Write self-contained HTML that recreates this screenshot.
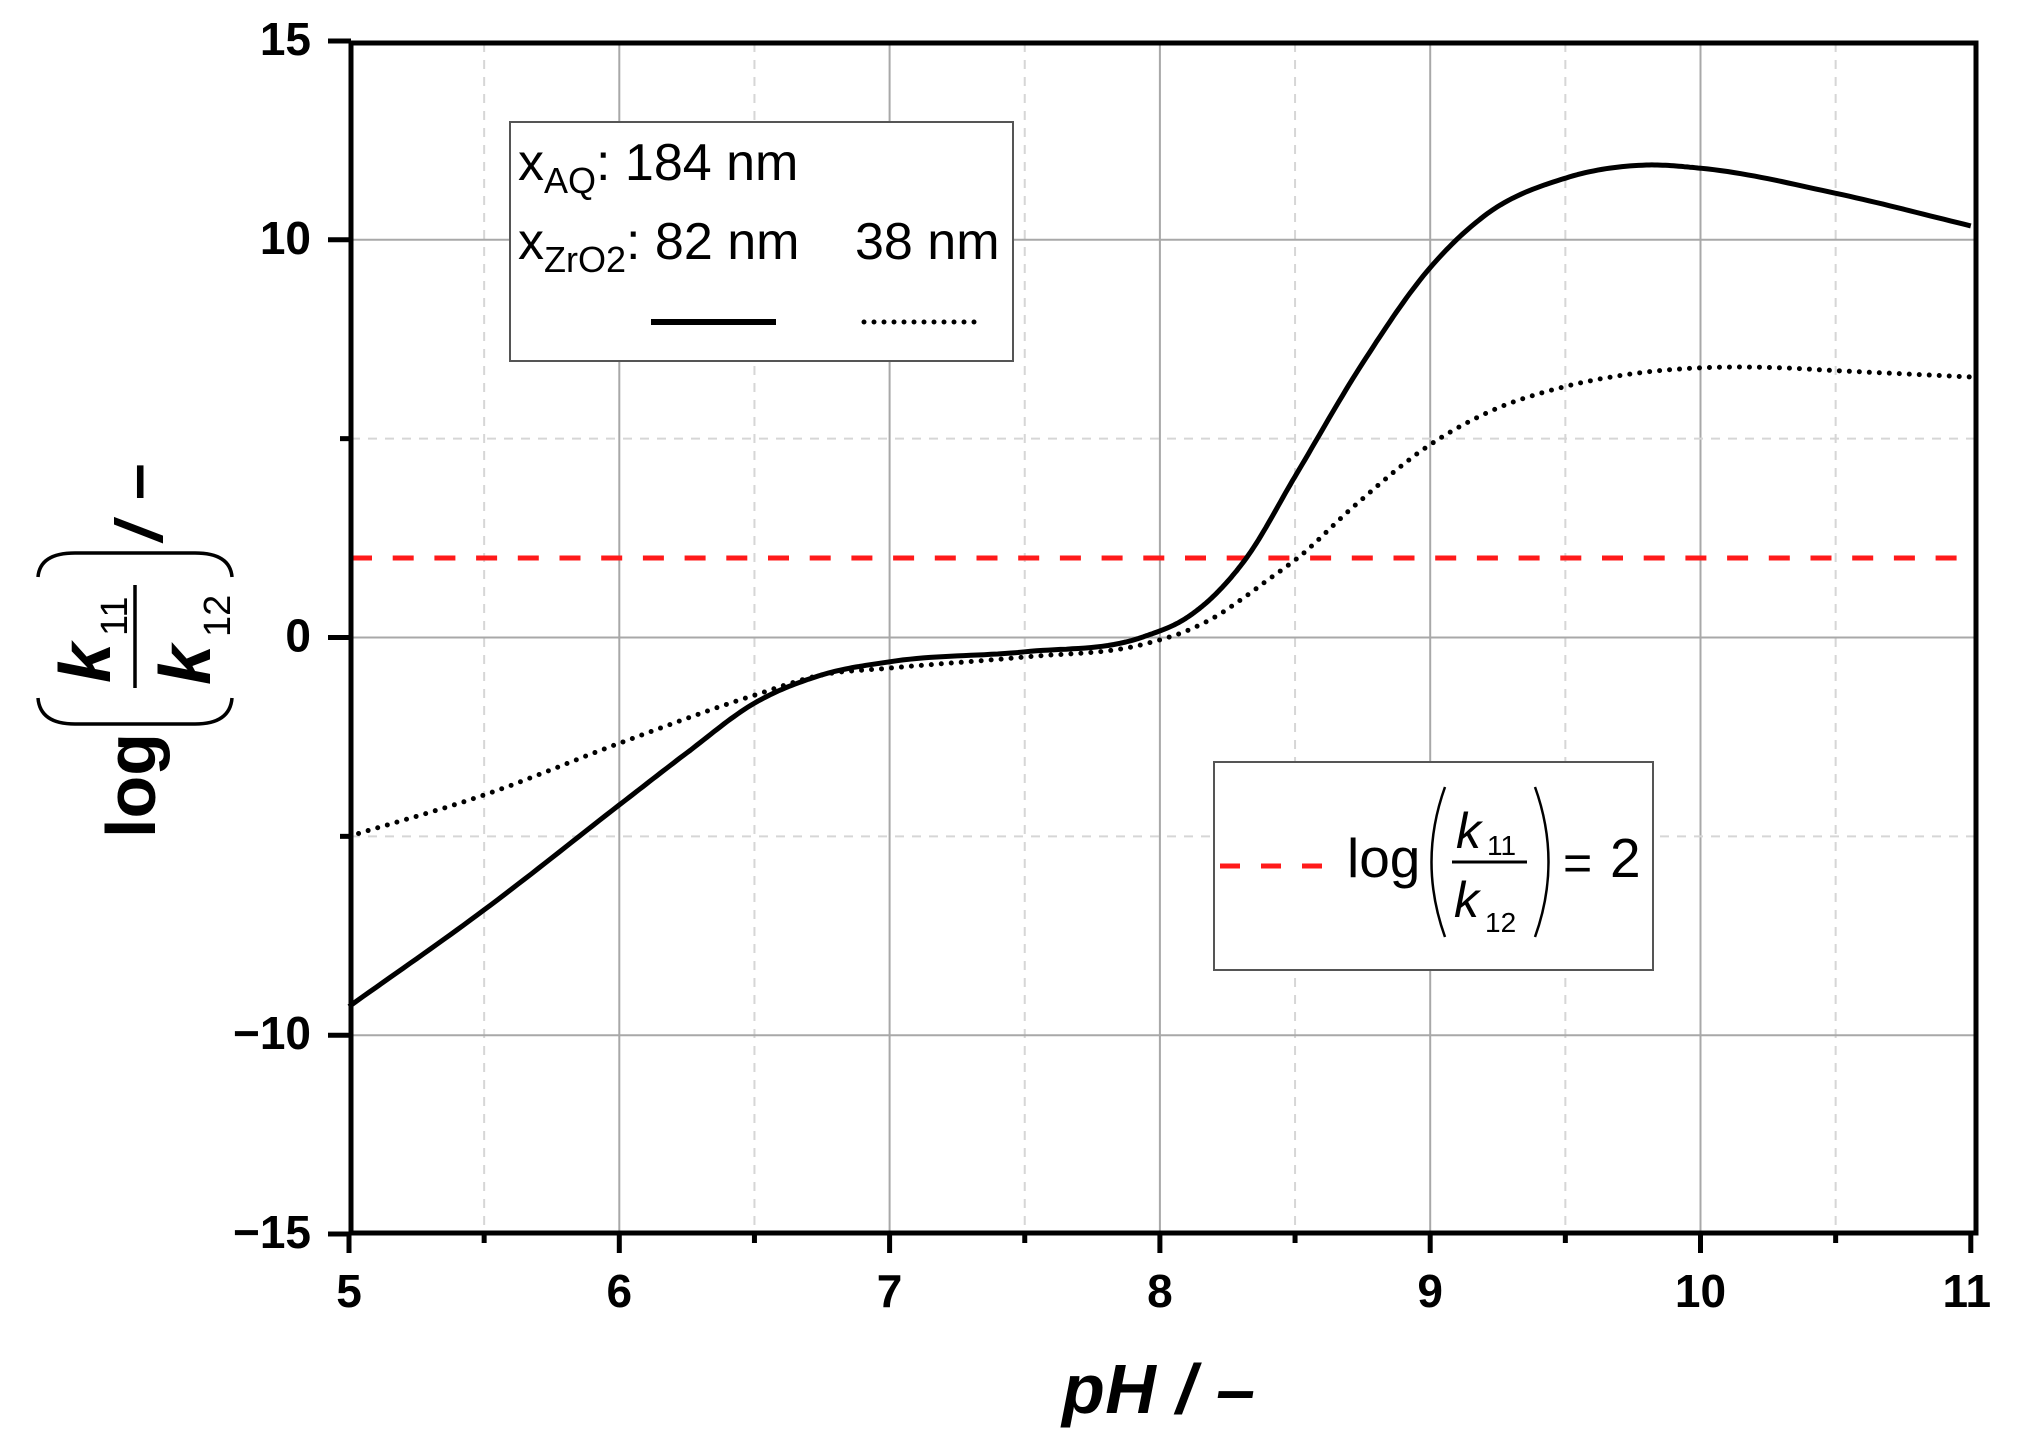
<!DOCTYPE html>
<html><head><meta charset="utf-8"><style>
html,body{margin:0;padding:0;background:#fff;}
svg{display:block;}
text{font-family:"Liberation Sans",Arial,sans-serif;}
</style></head><body>
<svg id="s" width="2019" height="1455" viewBox="0 0 2019 1455" xmlns="http://www.w3.org/2000/svg">
<rect width="2019" height="1455" fill="#fff"/>
<g id="grid"></g>
<line x1="351" y1="558" x2="1978" y2="558" stroke="#ff1a1a" stroke-width="5" stroke-dasharray="21 20.7"/>
<path id="sol" fill="none" stroke="#000" stroke-width="5" stroke-linejoin="round"/>
<path id="dot" fill="none" stroke="#000" stroke-width="5" stroke-linecap="round" stroke-dasharray="0 10"/>
<rect x="351" y="43" width="1625" height="1190" fill="none" stroke="#000" stroke-width="5"/>
<g id="ticks" stroke="#000" stroke-width="5"></g>
<g id="labels" font-weight="bold" font-size="46" fill="#000"></g>

<!-- legend 1 -->
<rect x="510" y="122" width="503" height="239" fill="#fff" stroke="#555" stroke-width="2"/>
<text x="518" y="180" font-size="52">x<tspan font-size="36" dy="13">AQ</tspan><tspan dy="-13">: 184 nm</tspan></text>
<text x="518" y="259" font-size="52">x<tspan font-size="36" dy="13">ZrO2</tspan><tspan dy="-13">: 82 nm</tspan></text>
<text x="855" y="259" font-size="52">38 nm</text>
<line x1="651" y1="322" x2="776" y2="322" stroke="#000" stroke-width="6"/>
<line x1="864" y1="322" x2="980" y2="322" stroke="#000" stroke-width="5" stroke-linecap="round" stroke-dasharray="0 10"/>

<!-- legend 2 -->
<rect x="1214" y="762" width="439" height="208" fill="#fff" stroke="#555" stroke-width="2"/>
<line x1="1220" y1="866" x2="1325" y2="866" stroke="#ff1a1a" stroke-width="5" stroke-dasharray="20 21"/>
<text x="1347" y="877" font-size="55">log</text>
<path d="M1445,787 Q1418,862 1445,937" fill="none" stroke="#000" stroke-width="2.5"/>
<path d="M1535,787 Q1562,862 1535,937" fill="none" stroke="#000" stroke-width="2.5"/>
<line x1="1452" y1="862" x2="1527" y2="862" stroke="#000" stroke-width="3"/>
<text x="1456" y="848" font-size="50" font-style="italic">k</text>
<text x="1487" y="855" font-size="28">11</text>
<text x="1454" y="917" font-size="50" font-style="italic">k</text>
<text x="1485" y="932" font-size="28">12</text>
<text x="1563" y="880" font-size="50">=</text>
<text x="1610" y="877" font-size="55">2</text>

<!-- x title -->
<text x="1062" y="1413" font-size="70" font-weight="bold" font-style="italic" textLength="193">pH / –</text>

<!-- y title -->
<g transform="rotate(-90)" fill="#000">
<text x="-838" y="155" font-size="70" font-weight="bold">log</text>
<text x="-683" y="110" font-size="72" font-weight="bold" font-style="italic">k</text>
<text x="-636" y="127" font-size="38">11</text>
<text x="-685" y="210" font-size="72" font-weight="bold" font-style="italic">k</text>
<text x="-637" y="230" font-size="38">12</text>
<text x="-541" y="162" font-size="66" font-weight="bold" font-style="italic">/</text>
<text x="-500" y="158" font-size="66" font-weight="bold">–</text>
</g>
<line x1="135" y1="585" x2="135" y2="688" stroke="#000" stroke-width="3.5"/>
<path d="M38,698 Q40,724 75,724 L195,724 Q230,724 232,698" fill="none" stroke="#000" stroke-width="3.5"/>
<path d="M38,577 Q40,553 75,553 L195,553 Q230,553 232,577" fill="none" stroke="#000" stroke-width="3.5"/>
</svg>
<script>
const NS="http://www.w3.org/2000/svg";
const px=x=>349+(x-5)*270.3, py=y=>637.5-y*39.77;
function el(p,t,a,txt){const e=document.createElementNS(NS,t);for(const k in a)e.setAttribute(k,a[k]);if(txt!==undefined)e.textContent=txt;document.getElementById(p).appendChild(e);}
for(let x=5.5;x<11;x+=0.5){const maj=Number.isInteger(x);
 el('grid','line',{x1:px(x),y1:43,x2:px(x),y2:1233,stroke:maj?'#a8a8a8':'#d6d6d6','stroke-width':2,'stroke-dasharray':maj?'none':'9 8'});}
[[10,1],[5,0],[0,1],[-5,0],[-10,1]].forEach(([y,maj])=>{
 el('grid','line',{x1:351,y1:py(y),x2:1976,y2:py(y),stroke:maj?'#a8a8a8':'#d6d6d6','stroke-width':2,'stroke-dasharray':maj?'none':'9 8'});});
[15,10,5,0,-5,-10,-15].forEach(y=>{const maj=y%10==0||Math.abs(y)==15;
 el('ticks','line',{x1:maj?328:340,y1:py(y),x2:351,y2:py(y)});
 if(maj) el('labels','text',{x:311,y:py(y)+14,'text-anchor':'end'},(y<0?'−':'')+Math.abs(y));});
for(let x=5;x<=11;x+=0.5){const maj=Number.isInteger(x);
 el('ticks','line',{x1:px(x),y1:1233,x2:px(x),y2:maj?1253:1243});
 if(maj) el('labels','text',{x:px(x)+(x==11?-4:0),y:1307,'text-anchor':'middle'},String(x));}
const S=[[5,-9.28],[5.5,-6.85],[6,-4.21],[6.25,-2.9],[6.5,-1.65],[6.75,-0.94],[7,-0.61],[7.5,-0.36],[7.94,0.02],[8.1,0.5],[8.2,1.05],[8.32,2],[8.5,4.05],[8.75,6.9],[9,9.3],[9.2,10.6],[9.5,11.55],[9.8,11.88],[10,11.8],[10.5,11.17],[11,10.35]];
const D=[[5,-5.0],[5.5,-3.96],[6,-2.66],[6.5,-1.45],[6.75,-0.94],[7,-0.77],[7.5,-0.49],[7.94,-0.17],[8.1,0.17],[8.2,0.5],[8.3,0.95],[8.4,1.45],[8.51,2],[8.71,3.25],[9,4.85],[9.22,5.68],[9.5,6.31],[9.77,6.65],[10,6.78],[10.26,6.79],[10.5,6.71],[11,6.55]];
function path(P){const n=P.length,m=[];
 for(let i=0;i<n;i++){if(i==0)m.push((P[1][1]-P[0][1])/(P[1][0]-P[0][0]));else if(i==n-1)m.push((P[n-1][1]-P[n-2][1])/(P[n-1][0]-P[n-2][0]));
  else{const h0=P[i][0]-P[i-1][0],h1=P[i+1][0]-P[i][0],d0=(P[i][1]-P[i-1][1])/h0,d1=(P[i+1][1]-P[i][1])/h1;m.push((d0*h1+d1*h0)/(h0+h1));}}
 let d='';
 for(let i=0;i<n-1;i++){const h=P[i+1][0]-P[i][0];for(let k=0;k<=20;k++){if(i>0&&k==0)continue;const t=k/20,t2=t*t,t3=t2*t;
  const y=(2*t3-3*t2+1)*P[i][1]+(t3-2*t2+t)*h*m[i]+(-2*t3+3*t2)*P[i+1][1]+(t3-t2)*h*m[i+1];const x=P[i][0]+t*h;
  d+=(d?'L':'M')+px(x).toFixed(1)+','+py(y).toFixed(1);}}
 return d;}
document.getElementById('sol').setAttribute('d',path(S));
document.getElementById('dot').setAttribute('d',path(D));
</script>
</body></html>
